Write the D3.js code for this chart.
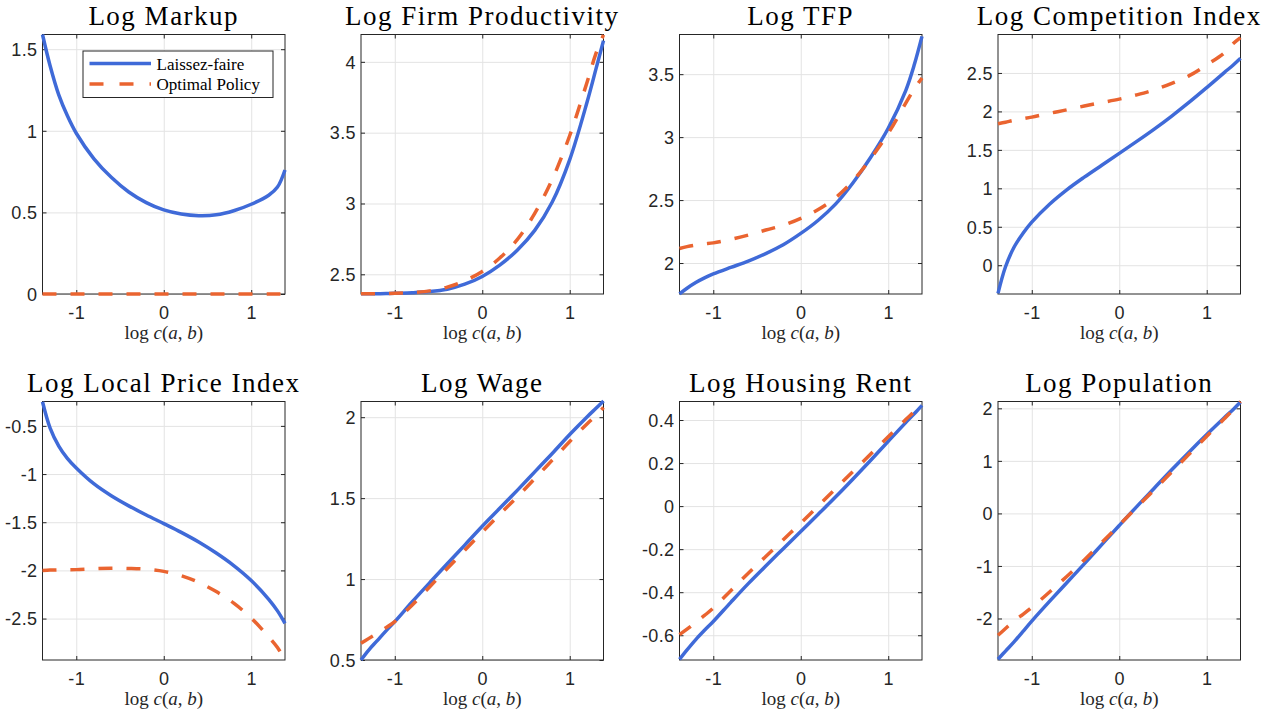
<!DOCTYPE html>
<html>
<head>
<meta charset="utf-8">
<script src="https://cdn.jsdelivr.net/npm/d3@7/dist/d3.min.js"></script>
<style>
  body { margin: 0; background: #fff; }
  svg { display: block; }
  .tick text { font-family: "Liberation Sans", Arial, sans-serif; font-size: 18px; fill: #262626; letter-spacing: 0.4px; }
  .title { font-family: "Liberation Serif", "Times New Roman", serif; font-size: 27px; fill: #000; letter-spacing: 1.5px; }
  .xlab { font-family: "Liberation Serif", "Times New Roman", serif; font-size: 19px; fill: #262626; }
  .legend text { font-family: "Liberation Serif", "Times New Roman", serif; font-size: 17px; fill: #000; }
</style>
</head>
<body>
<div id="chart"></div>
<script>
// common x grid, log c(a,b)
const xVals = [-1.386, -1.3, -1.2, -1.1, -1.0, -0.8, -0.6, -0.4, -0.2, 0, 0.2, 0.4, 0.6, 0.8, 1.0, 1.2, 1.3, 1.386];
const xTicks = [-1, 0, 1];
const xLimits = [-1.386, 1.386];

const titles = ["Log Markup", "Log Firm Productivity", "Log TFP", "Log Competition Index",
  "Log Local Price Index", "Log Wage", "Log Housing Rent", "Log Population"];

const yLimits = [[0, 1.59], [2.361, 4.193], [1.754, 3.815], [-0.374, 3.0],
  [-2.93, -0.247], [0.5, 2.097], [-0.715, 0.486], [-2.79, 2.13]];

const yTicks = [[0, 0.5, 1, 1.5], [2.5, 3, 3.5, 4], [2, 2.5, 3, 3.5], [0, 0.5, 1, 1.5, 2, 2.5],
  [-2.5, -2, -1.5, -1, -0.5], [0.5, 1, 1.5, 2], [-0.6, -0.4, -0.2, 0, 0.2, 0.4], [-2, -1, 0, 1, 2]];

// laissez-faire series
const markupLF = [1.59, 1.40, 1.22, 1.09, 0.985, 0.83, 0.715, 0.625, 0.56, 0.515, 0.49, 0.48, 0.485, 0.51, 0.55, 0.605, 0.655, 0.76];
const prodLF = [2.362, 2.362, 2.363, 2.364, 2.366, 2.37, 2.378, 2.395, 2.43, 2.485, 2.565, 2.67, 2.81, 3.01, 3.31, 3.72, 3.95, 4.15];
const tfpLF = [1.755, 1.80, 1.845, 1.882, 1.913, 1.965, 2.015, 2.075, 2.145, 2.235, 2.34, 2.47, 2.64, 2.84, 3.07, 3.37, 3.58, 3.80];
const compLF = [-0.365, -0.02, 0.24, 0.415, 0.56, 0.79, 0.98, 1.145, 1.30, 1.455, 1.61, 1.77, 1.94, 2.12, 2.31, 2.505, 2.60, 2.69];
const priceLF = [-0.25, -0.52, -0.71, -0.84, -0.937, -1.10, -1.225, -1.33, -1.425, -1.514, -1.605, -1.705, -1.82, -1.95, -2.105, -2.30, -2.42, -2.55];
const wageLF = [0.50, 0.56, 0.62, 0.68, 0.737, 0.86, 0.978, 1.095, 1.21, 1.326, 1.437, 1.548, 1.662, 1.776, 1.893, 2.003, 2.055, 2.10];
const rentLF = [-0.712, -0.668, -0.62, -0.577, -0.536, -0.447, -0.36, -0.278, -0.198, -0.118, -0.038, 0.043, 0.127, 0.213, 0.301, 0.388, 0.43, 0.468];
const popLF = [-2.775, -2.62, -2.44, -2.245, -2.05, -1.68, -1.32, -0.96, -0.595, -0.23, 0.13, 0.48, 0.83, 1.17, 1.5, 1.82, 1.975, 2.12];

// optimal policy series
const markupOpt = [0, 0, 0, 0, 0, 0, 0, 0, 0, 0, 0, 0, 0, 0, 0, 0, 0, 0];
const prodOpt = [2.362, 2.362, 2.363, 2.364, 2.366, 2.372, 2.383, 2.41, 2.455, 2.52, 2.615, 2.745, 2.93, 3.17, 3.48, 3.86, 4.06, 4.19];
const tfpOpt = [2.115, 2.13, 2.143, 2.152, 2.16, 2.188, 2.222, 2.262, 2.30, 2.355, 2.425, 2.52, 2.655, 2.83, 3.03, 3.27, 3.385, 3.47];
const compOpt = [1.84, 1.86, 1.885, 1.905, 1.926, 1.975, 2.02, 2.07, 2.115, 2.16, 2.215, 2.28, 2.365, 2.465, 2.605, 2.76, 2.88, 2.96];
const priceOpt = [-2.0, -1.997, -1.995, -1.994, -1.992, -1.983, -1.977, -1.98, -1.988, -2.01, -2.055, -2.125, -2.22, -2.34, -2.495, -2.69, -2.80, -2.93];
const wageOpt = [0.603, 0.632, 0.665, 0.70, 0.737, 0.84, 0.953, 1.065, 1.178, 1.29, 1.40, 1.508, 1.62, 1.735, 1.85, 1.96, 2.01, 2.06];
const rentOpt = [-0.597, -0.572, -0.54, -0.508, -0.474, -0.393, -0.312, -0.234, -0.156, -0.079, 0.001, 0.082, 0.162, 0.242, 0.322, 0.402, 0.44, 0.478];
const popOpt = [-2.32, -2.19, -2.04, -1.92, -1.79, -1.50, -1.20, -0.885, -0.555, -0.22, 0.115, 0.45, 0.79, 1.13, 1.47, 1.80, 1.97, 2.13];

const seriesLF = [markupLF, prodLF, tfpLF, compLF, priceLF, wageLF, rentLF, popLF];
const seriesOpt = [markupOpt, prodOpt, tfpOpt, compOpt, priceOpt, wageOpt, rentOpt, popOpt];

const blue = "#3f6ad8";
const orange = "#ea6430";
const axisColor = "#262626";

const svg = d3.select("#chart").append("svg")
  .attr("width", 1283)
  .attr("height", 719);

// layout of the 2x4 grid
const colLeft = [42.5, 361, 679.5, 998];
const rowTop = [34.5, 401.5];
const plotW = 242.5;
const rowH = [259.5, 258.5];

titles.forEach((title, i) => {
  const row = Math.floor(i / 4), col = i % 4;
  const w = plotW, h = rowH[row];
  const g = svg.append("g").attr("transform", `translate(${colLeft[col]},${rowTop[row]})`);

  const x = d3.scaleLinear().domain(xLimits).range([0, w]);
  const y = d3.scaleLinear().domain(yLimits[i]).range([h, 0]);

  // grid
  g.append("g").attr("class", "grid")
    .call(d3.axisBottom(x).tickValues(xTicks).tickSize(h).tickFormat(""))
    .call(s => s.select(".domain").remove());
  g.append("g").attr("class", "grid")
    .call(d3.axisRight(y).tickValues(yTicks[i]).tickSize(w).tickFormat(""))
    .call(s => s.select(".domain").remove());
  g.selectAll(".grid line").attr("stroke", "#e3e3e3").attr("stroke-width", 1);

  // box
  g.append("rect").attr("width", w).attr("height", h)
    .attr("fill", "none").attr("stroke", axisColor).attr("stroke-width", 1);

  // ticks on all sides, inside
  const xb = g.append("g").attr("transform", `translate(0,${h})`)
    .call(d3.axisBottom(x).tickValues(xTicks).tickSizeInner(-4).tickSizeOuter(0).tickPadding(12).tickFormat(d => String(d)));
  g.append("g")
    .call(d3.axisTop(x).tickValues(xTicks).tickSizeInner(-4).tickSizeOuter(0).tickFormat(""));
  const yl = g.append("g")
    .call(d3.axisLeft(y).tickValues(yTicks[i]).tickSizeInner(-4).tickSizeOuter(0).tickPadding(5).tickFormat(d => String(d)));
  g.append("g").attr("transform", `translate(${w},0)`)
    .call(d3.axisRight(y).tickValues(yTicks[i]).tickSizeInner(-4).tickSizeOuter(0).tickFormat(""));
  g.selectAll(".domain").remove();
  g.selectAll(".tick line").filter(function() { return !this.closest(".grid"); })
    .attr("stroke", axisColor);
  xb.selectAll("text").attr("dy", "0.71em");
  yl.selectAll("text").attr("dy", "0.35em");

  // curves
  const line = d3.line()
    .x((d, k) => x(xVals[k]))
    .y(d => y(d))
    .curve(d3.curveCatmullRom.alpha(0.5));

  g.append("path").datum(seriesLF[i])
    .attr("fill", "none").attr("stroke", blue).attr("stroke-width", 3.5)
    .attr("d", line);
  g.append("path").datum(seriesOpt[i])
    .attr("fill", "none").attr("stroke", orange).attr("stroke-width", 3.5)
    .attr("stroke-dasharray", "14,14")
    .attr("d", line);

  // title
  g.append("text").attr("class", "title")
    .attr("x", w / 2).attr("y", -10)
    .attr("text-anchor", "middle")
    .text(title);

  // x label: log c(a,b)
  const xl = g.append("text").attr("class", "xlab")
    .attr("x", w / 2).attr("y", h + 45)
    .attr("text-anchor", "middle");
  xl.append("tspan").text("log ");
  xl.append("tspan").attr("font-style", "italic").text("c");
  xl.append("tspan").text("(");
  xl.append("tspan").attr("font-style", "italic").text("a");
  xl.append("tspan").text(", ");
  xl.append("tspan").attr("font-style", "italic").text("b");
  xl.append("tspan").text(")");

  // legend in first panel only
  if (i === 0) {
    const lg = g.append("g").attr("class", "legend").attr("transform", "translate(40.5,16.5)");
    lg.append("rect").attr("width", 190).attr("height", 46.5)
      .attr("fill", "#fff").attr("stroke", axisColor).attr("stroke-width", 1);
    lg.append("line").attr("x1", 6.5).attr("x2", 68).attr("y1", 12.5).attr("y2", 12.5)
      .attr("stroke", blue).attr("stroke-width", 3.5);
    lg.append("line").attr("x1", 6.5).attr("x2", 68).attr("y1", 33).attr("y2", 33)
      .attr("stroke", orange).attr("stroke-width", 3.5).attr("stroke-dasharray", "14,16");
    lg.append("text").attr("x", 73.5).attr("y", 18.5).text("Laissez-faire");
    lg.append("text").attr("x", 73.5).attr("y", 39).text("Optimal Policy");
  }
});
</script>
</body>
</html>
